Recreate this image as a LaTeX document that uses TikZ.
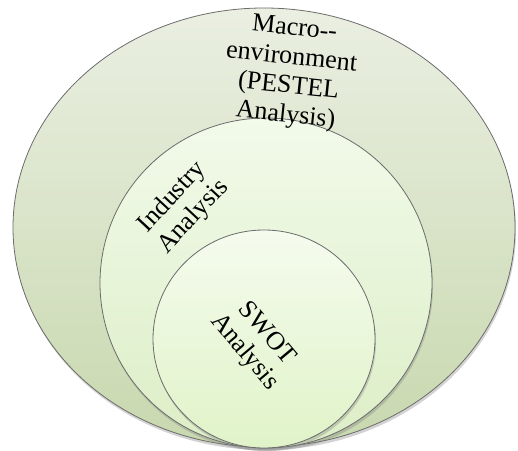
\documentclass[tikz,border=0pt]{standalone}
\usepackage{fontspec}
\setmainfont{Liberation Serif}
\usetikzlibrary{shadows}

\begin{document}
\begin{tikzpicture}[x=1pt,y=1pt]
\definecolor{outtop}{HTML}{EAEFE2}
\definecolor{outbot}{HTML}{C8D8AE}
\definecolor{midtop}{HTML}{F2FAEA}
\definecolor{midbot}{HTML}{DCEEC6}
\definecolor{intop}{HTML}{F5FBEE}
\definecolor{inbot}{HTML}{E0F3C8}
\tikzset{
  ring/.style={draw=gray!85!black, line width=0.8pt,
    drop shadow={opacity=0.35, shadow xshift=1pt, shadow yshift=-3pt}},
  lbl/.style={align=center, font=\fontsize{26}{29}\selectfont, inner sep=0pt}
}
\useasboundingbox (0,0) rectangle (518,450);
\coordinate (O) at (264,222.5);
\coordinate (M) at (266,167);
\coordinate (I) at (264,111);
\shade[ring, top color=outtop, bottom color=outbot] (O) ellipse [x radius=251, y radius=219.5];
\shade[ring, top color=midtop, bottom color=midbot] (M) ellipse [x radius=166, y radius=165];
\shade[ring, top color=intop, bottom color=inbot] (I) ellipse [x radius=111, y radius=109];
\node[lbl, rotate=-6] (macro) at (290,377) {Macro-{}-\\environment\\(PESTEL\\Analysis)};
\node[lbl, rotate=47] (industry) at (183,243) {Industry\\Analysis};
\node[lbl, rotate=-50] (swot) at (255,107) {SWOT\\Analysis};
\end{tikzpicture}
\end{document}
